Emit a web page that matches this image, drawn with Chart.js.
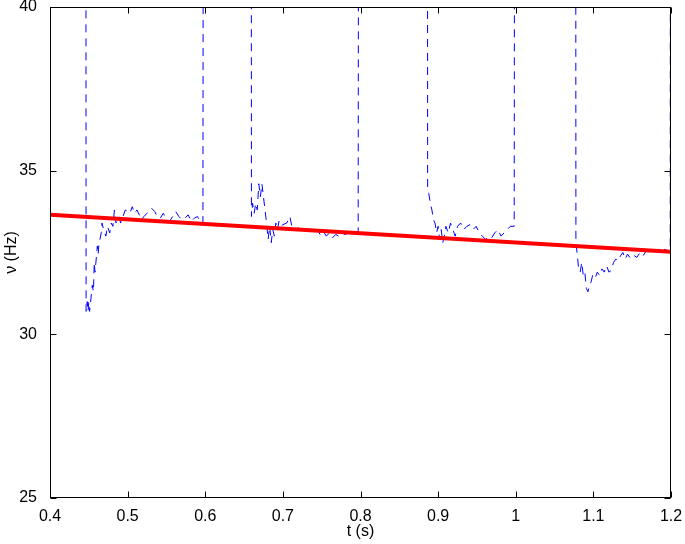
<!DOCTYPE html>
<html>
<head>
<meta charset="utf-8">
<script src="https://cdn.jsdelivr.net/npm/chart.js@4/dist/chart.umd.min.js"></script>
<style>
  html, body { margin: 0; padding: 0; background: #fff; }
  #wrap { width: 685px; height: 544px; }
</style>
</head>
<body>
<div id="wrap"><canvas id="c" width="685" height="544"></canvas></div>
<script>
// value used for the parts of the blue trace that are far above the plotted range
const OFF = 60;

// segment 1
const seg1T = [0.446, 0.4465, 0.448, 0.449, 0.450, 0.451, 0.4545, 0.456, 0.457, 0.458, 0.461, 0.462, 0.463, 0.466, 0.467, 0.469, 0.472, 0.474, 0.477, 0.479, 0.481, 0.483, 0.485, 0.487, 0.489, 0.491, 0.494, 0.497, 0.500, 0.503, 0.506, 0.509, 0.512, 0.515, 0.518, 0.521, 0.525, 0.528, 0.531, 0.535, 0.538, 0.542, 0.546, 0.550, 0.554, 0.558, 0.562, 0.566, 0.570, 0.574, 0.578, 0.582, 0.586, 0.590, 0.594, 0.597, 0.598];
const seg1V = [OFF, 30.7, 31.0, 30.7, 31.0, 30.7, 31.5, 31.3, 32.2, 31.9, 32.7, 32.45, 32.75, 33.1, 33.4, 33.2, 33.0, 33.3, 33.1, 33.4, 33.3, 33.8, 33.4, 33.5, 33.6, 33.4, 33.6, 33.8, 33.75, 33.7, 33.9, 33.7, 33.8, 33.65, 33.5, 33.6, 33.7, 33.8, 33.85, 33.75, 33.6, 33.55, 33.7, 33.5, 33.45, 33.6, 33.75, 33.6, 33.5, 33.55, 33.65, 33.45, 33.55, 33.6, 33.4, 33.4, OFF];

// segment 2
const seg2T = [0.659, 0.6595, 0.661, 0.663, 0.665, 0.667, 0.669, 0.671, 0.673, 0.675, 0.677, 0.679, 0.681, 0.683, 0.685, 0.687, 0.689, 0.691, 0.693, 0.695, 0.697, 0.700, 0.705, 0.709, 0.712, 0.716, 0.720, 0.724, 0.728, 0.732, 0.736, 0.740, 0.744, 0.748, 0.752, 0.756, 0.760, 0.764, 0.768, 0.772, 0.776, 0.780, 0.785, 0.790, 0.797, 0.798];
const seg2V = [OFF, 33.6, 34.0, 33.7, 34.0, 33.8, 34.6, 34.2, 34.6, 34.2, 33.8, 33.4, 32.9, 33.3, 32.8, 33.2, 33.0, 33.4, 33.2, 33.45, 33.3, 33.35, 33.4, 33.6, 33.25, 33.2, 33.25, 33.2, 33.3, 33.15, 33.2, 33.1, 33.2, 33.05, 33.15, 33.0, 33.1, 32.95, 33.05, 33.0, 33.1, 33.05, 33.1, 33.05, 33.1, OFF];

// segment 3
const seg3T = [0.886, 0.8865, 0.888, 0.890, 0.892, 0.894, 0.896, 0.898, 0.900, 0.902, 0.904, 0.906, 0.908, 0.910, 0.913, 0.916, 0.919, 0.922, 0.925, 0.929, 0.933, 0.937, 0.941, 0.945, 0.949, 0.953, 0.957, 0.961, 0.965, 0.969, 0.973, 0.977, 0.981, 0.985, 0.989, 0.993, 0.998, 0.999];
const seg3V = [OFF, 34.45, 34.3, 34.0, 33.8, 33.5, 33.4, 33.1, 33.3, 32.9, 33.2, 32.8, 33.0, 33.3, 33.1, 33.4, 33.2, 33.0, 33.3, 33.4, 33.2, 33.3, 33.35, 33.2, 33.3, 33.1, 33.0, 32.9, 33.0, 32.95, 33.1, 33.2, 33.0, 33.1, 33.2, 33.3, 33.3, OFF];

// segment 4
const seg4T = [1.077, 1.0775, 1.079, 1.081, 1.083, 1.085, 1.087, 1.089, 1.091, 1.093, 1.095, 1.097, 1.099, 1.102, 1.105, 1.108, 1.111, 1.114, 1.117, 1.120, 1.123, 1.126, 1.129, 1.132, 1.135, 1.138, 1.141, 1.144, 1.147, 1.150, 1.153, 1.156, 1.160, 1.164, 1.168, 1.172, 1.176, 1.180, 1.184, 1.188, 1.192, 1.196, 1.199, 1.1995];
const seg4V = [OFF, 32.8, 32.5, 32.0, 31.9, 32.2, 31.8, 31.9, 31.4, 31.3, 31.5, 31.6, 31.8, 31.7, 31.9, 31.8, 32.0, 31.9, 32.1, 31.9, 31.95, 32.2, 32.3, 32.25, 32.4, 32.5, 32.3, 32.45, 32.35, 32.3, 32.4, 32.35, 32.5, 32.4, 32.55, 32.5, 32.6, 32.55, 32.6, 32.5, 32.6, 32.55, 32.5, OFF];

// red fit line
const fitT = [0.4, 1.2];
const fitV = [33.65, 32.52];

// ticks
const xTicks = [0.4, 0.5, 0.6, 0.7, 0.8, 0.9, 1.0, 1.1, 1.2];
const yTicks = [25, 30, 35, 40];

const blueT = [].concat(seg1T, seg2T, seg3T, seg4T);
const blueV = [].concat(seg1V, seg2V, seg3V, seg4V);
const bluePts = blueT.map((t, i) => ({x: t, y: blueV[i]}));
const fitPts = fitT.map((t, i) => ({x: t, y: fitV[i]}));

const FONT = "'Liberation Sans', Arial, Helvetica, sans-serif";

const boxTicks = {
  id: 'boxTicks',
  afterDatasetsDraw(chart) {
    const {ctx, chartArea: a, scales} = chart;
    const L = Math.round(a.left) + 0.5, R = Math.round(a.right) - 0.5;
    const T = Math.round(a.top) + 0.5, B = Math.round(a.bottom) - 0.5;
    ctx.save();
    ctx.strokeStyle = '#000';
    ctx.lineWidth = 1;
    ctx.beginPath();
    const tl = 6;
    scales.x.ticks.forEach(tk => {
      const px = Math.round(scales.x.getPixelForValue(tk.value)) + 0.5;
      ctx.moveTo(px, B); ctx.lineTo(px, B - tl);
      ctx.moveTo(px, T); ctx.lineTo(px, T + tl);
    });
    scales.y.ticks.forEach(tk => {
      const py = Math.round(scales.y.getPixelForValue(tk.value)) + 0.5;
      ctx.moveTo(L, py); ctx.lineTo(L + tl, py);
      ctx.moveTo(R, py); ctx.lineTo(R - tl, py);
    });
    ctx.stroke();
    ctx.strokeRect(L, T, R - L, B - T);
    ctx.restore();
  }
};

new Chart(document.getElementById('c'), {
  type: 'scatter',
  data: {
    datasets: [
      {
        data: fitPts,
        showLine: true,
        borderColor: 'rgb(255,0,0)',
        borderWidth: 4,
        pointRadius: 0,
        order: 0
      },
      {
        data: bluePts,
        showLine: true,
        borderColor: 'rgb(0,0,255)',
        borderWidth: 1,
        borderDash: [8, 6],
        pointRadius: 0,
        order: 1
      }
    ]
  },
  options: {
    responsive: false,
    animation: false,
    events: [],
    layout: { padding: { top: 7, right: 14, left: 0, bottom: 0 } },
    plugins: { legend: { display: false }, tooltip: { enabled: false } },
    scales: {
      x: {
        type: 'linear',
        min: 0.4, max: 1.2,
        afterBuildTicks: s => { s.ticks = xTicks.map(v => ({value: v})); },
        afterFit: s => { s.height = 46; s.paddingLeft = 0; s.paddingRight = 0; },
        grid: { display: false },
        border: { display: false },
        ticks: {
          color: '#000',
          font: { family: FONT, size: 16 },
          padding: 1,
          maxRotation: 0,
          callback: v => String(+v.toFixed(1))
        },
        title: {
          display: true, text: 't (s)', color: '#000',
          font: { family: FONT, size: 16 },
          padding: { top: 0, bottom: 3 }
        }
      },
      y: {
        type: 'linear',
        min: 25, max: 40,
        afterBuildTicks: s => { s.ticks = yTicks.map(v => ({value: v})); },
        afterFit: s => { s.width = 50; s.paddingTop = 0; s.paddingBottom = 0; },
        grid: { display: false },
        border: { display: false },
        ticks: {
          color: '#000',
          font: { family: FONT, size: 16 },
          padding: 5,
          callback: v => String(v)
        },
        title: {
          display: true, text: 'ν (Hz)', color: '#000',
          font: { family: FONT, size: 16 },
          padding: { top: 2, bottom: 0 }
        }
      }
    }
  },
  plugins: [boxTicks]
});
</script>
</body>
</html>
